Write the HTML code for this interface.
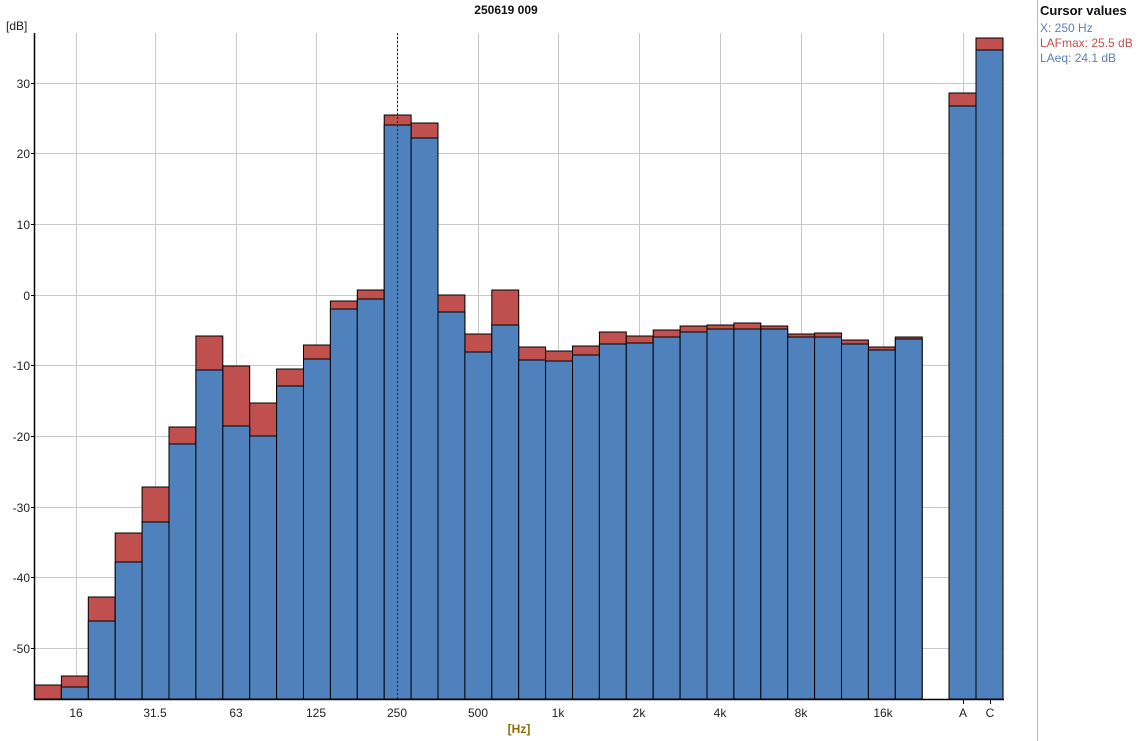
<!DOCTYPE html>
<html><head><meta charset="utf-8"><style>
html,body{margin:0;padding:0;background:#fff;}
svg{display:block;font-family:"Liberation Sans",sans-serif;}
</style></head><body>
<svg width="1145" height="741" xmlns="http://www.w3.org/2000/svg">
<rect width="1145" height="741" fill="#fff"/>
<g stroke="#c8c8c8" stroke-width="1">
<line x1="35" x2="1004" y1="83.5" y2="83.5"/>
<line x1="35" x2="1004" y1="153.5" y2="153.5"/>
<line x1="35" x2="1004" y1="224.5" y2="224.5"/>
<line x1="35" x2="1004" y1="295.5" y2="295.5"/>
<line x1="35" x2="1004" y1="365.5" y2="365.5"/>
<line x1="35" x2="1004" y1="436.5" y2="436.5"/>
<line x1="35" x2="1004" y1="507.5" y2="507.5"/>
<line x1="35" x2="1004" y1="577.5" y2="577.5"/>
<line x1="35" x2="1004" y1="648.5" y2="648.5"/>
<line x1="76.5" x2="76.5" y1="33" y2="699"/>
<line x1="155.5" x2="155.5" y1="33" y2="699"/>
<line x1="236.5" x2="236.5" y1="33" y2="699"/>
<line x1="316.5" x2="316.5" y1="33" y2="699"/>
<line x1="397.5" x2="397.5" y1="33" y2="699"/>
<line x1="478.5" x2="478.5" y1="33" y2="699"/>
<line x1="558.5" x2="558.5" y1="33" y2="699"/>
<line x1="639.5" x2="639.5" y1="33" y2="699"/>
<line x1="720.5" x2="720.5" y1="33" y2="699"/>
<line x1="801.5" x2="801.5" y1="33" y2="699"/>
<line x1="883.5" x2="883.5" y1="33" y2="699"/>
<line x1="963.5" x2="963.5" y1="33" y2="699"/>
</g>
<g stroke="#000" stroke-width="1" fill="#c0504d">
<rect x="34.5" y="685" width="26.9" height="14"/>
<rect x="61.4" y="676" width="26.9" height="23"/>
<rect x="88.3" y="597" width="26.9" height="102"/>
<rect x="115.2" y="533" width="26.9" height="166"/>
<rect x="142.1" y="487" width="26.9" height="212"/>
<rect x="169" y="427" width="26.9" height="272"/>
<rect x="195.9" y="336" width="26.9" height="363"/>
<rect x="222.8" y="366" width="26.9" height="333"/>
<rect x="249.7" y="403" width="26.9" height="296"/>
<rect x="276.6" y="369" width="26.9" height="330"/>
<rect x="303.5" y="345" width="26.9" height="354"/>
<rect x="330.4" y="301" width="26.9" height="398"/>
<rect x="357.3" y="290" width="26.9" height="409"/>
<rect x="384.2" y="115" width="26.9" height="584"/>
<rect x="411.1" y="123" width="26.9" height="576"/>
<rect x="438" y="295" width="26.9" height="404"/>
<rect x="464.9" y="334" width="26.9" height="365"/>
<rect x="491.8" y="290" width="26.9" height="409"/>
<rect x="518.7" y="347" width="26.9" height="352"/>
<rect x="545.6" y="351" width="26.9" height="348"/>
<rect x="572.5" y="346" width="26.9" height="353"/>
<rect x="599.4" y="332" width="26.9" height="367"/>
<rect x="626.3" y="336" width="26.9" height="363"/>
<rect x="653.2" y="330" width="26.9" height="369"/>
<rect x="680.1" y="326" width="26.9" height="373"/>
<rect x="707" y="325" width="26.9" height="374"/>
<rect x="733.9" y="323" width="26.9" height="376"/>
<rect x="760.8" y="326" width="26.9" height="373"/>
<rect x="787.7" y="334" width="26.9" height="365"/>
<rect x="814.6" y="333" width="26.9" height="366"/>
<rect x="841.5" y="340" width="26.9" height="359"/>
<rect x="868.4" y="347" width="26.9" height="352"/>
<rect x="895.3" y="337" width="26.9" height="362"/>
<rect x="949" y="93" width="27" height="606"/>
<rect x="976" y="38" width="27" height="661"/>
</g>
<g stroke="#000" stroke-width="1" fill="#4f81bd">
<rect x="61.4" y="687" width="26.9" height="12"/>
<rect x="88.3" y="621" width="26.9" height="78"/>
<rect x="115.2" y="562" width="26.9" height="137"/>
<rect x="142.1" y="522" width="26.9" height="177"/>
<rect x="169" y="444" width="26.9" height="255"/>
<rect x="195.9" y="370" width="26.9" height="329"/>
<rect x="222.8" y="426" width="26.9" height="273"/>
<rect x="249.7" y="436" width="26.9" height="263"/>
<rect x="276.6" y="386" width="26.9" height="313"/>
<rect x="303.5" y="359" width="26.9" height="340"/>
<rect x="330.4" y="309" width="26.9" height="390"/>
<rect x="357.3" y="299" width="26.9" height="400"/>
<rect x="384.2" y="125" width="26.9" height="574"/>
<rect x="411.1" y="138" width="26.9" height="561"/>
<rect x="438" y="312" width="26.9" height="387"/>
<rect x="464.9" y="352" width="26.9" height="347"/>
<rect x="491.8" y="325" width="26.9" height="374"/>
<rect x="518.7" y="360" width="26.9" height="339"/>
<rect x="545.6" y="361" width="26.9" height="338"/>
<rect x="572.5" y="355" width="26.9" height="344"/>
<rect x="599.4" y="344" width="26.9" height="355"/>
<rect x="626.3" y="343" width="26.9" height="356"/>
<rect x="653.2" y="337" width="26.9" height="362"/>
<rect x="680.1" y="332" width="26.9" height="367"/>
<rect x="707" y="329" width="26.9" height="370"/>
<rect x="733.9" y="329" width="26.9" height="370"/>
<rect x="760.8" y="329" width="26.9" height="370"/>
<rect x="787.7" y="337" width="26.9" height="362"/>
<rect x="814.6" y="337" width="26.9" height="362"/>
<rect x="841.5" y="344" width="26.9" height="355"/>
<rect x="868.4" y="350" width="26.9" height="349"/>
<rect x="895.3" y="339" width="26.9" height="360"/>
<rect x="949" y="106" width="27" height="593"/>
<rect x="976" y="50" width="27" height="649"/>
</g>
<line x1="397.5" x2="397.5" y1="33" y2="699" stroke="#222" stroke-dasharray="2,2"/>
<line x1="34.5" x2="34.5" y1="33" y2="700" stroke="#000" stroke-width="1.5"/>
<line x1="34" x2="1004" y1="699.5" y2="699.5" stroke="#000" stroke-width="1.5"/>
<g stroke="#000">
<line x1="31" x2="35" y1="83.5" y2="83.5"/><line x1="31" x2="35" y1="153.5" y2="153.5"/>
<line x1="31" x2="35" y1="224.5" y2="224.5"/><line x1="31" x2="35" y1="295.5" y2="295.5"/>
<line x1="31" x2="35" y1="365.5" y2="365.5"/><line x1="31" x2="35" y1="436.5" y2="436.5"/>
<line x1="31" x2="35" y1="507.5" y2="507.5"/><line x1="31" x2="35" y1="577.5" y2="577.5"/>
<line x1="31" x2="35" y1="648.5" y2="648.5"/>
<line x1="963.5" x2="963.5" y1="699" y2="704"/><line x1="990.5" x2="990.5" y1="699" y2="704"/>
</g>
<g font-size="12" fill="#222" text-anchor="end">
<text x="30" y="88">30</text><text x="30" y="158">20</text><text x="30" y="229">10</text>
<text x="30" y="300">0</text><text x="30" y="370">-10</text><text x="30" y="441">-20</text>
<text x="30" y="512">-30</text><text x="30" y="582">-40</text><text x="30" y="653">-50</text>
</g>
<g font-size="12" fill="#222" text-anchor="middle">
<text x="76" y="717">16</text><text x="155" y="717">31.5</text><text x="236" y="717">63</text>
<text x="316" y="717">125</text><text x="397" y="717">250</text><text x="478" y="717">500</text>
<text x="558" y="717">1k</text><text x="639" y="717">2k</text><text x="720" y="717">4k</text>
<text x="801" y="717">8k</text><text x="883" y="717">16k</text>
<text x="963" y="717">A</text><text x="990" y="717">C</text>
</g>
<text x="506" y="14" font-size="12" font-weight="bold" text-anchor="middle" fill="#111">250619 009</text>
<text x="6" y="30" font-size="12" fill="#222">[dB]</text>
<text x="519" y="733" font-size="12" font-weight="bold" text-anchor="middle" fill="#8a6d00">[Hz]</text>
<line x1="1037.5" y1="0" x2="1037.5" y2="741" stroke="#bbb"/>
<text x="1040" y="15" font-size="13" font-weight="bold" fill="#111">Cursor values</text>
<text x="1040" y="32" font-size="12" fill="#5b7fb8">X: 250 Hz</text>
<text x="1040" y="47" font-size="12" fill="#c0504d">LAFmax: 25.5 dB</text>
<text x="1040" y="62" font-size="12" fill="#5b7fb8">LAeq: 24.1 dB</text>
</svg>
</body></html>
